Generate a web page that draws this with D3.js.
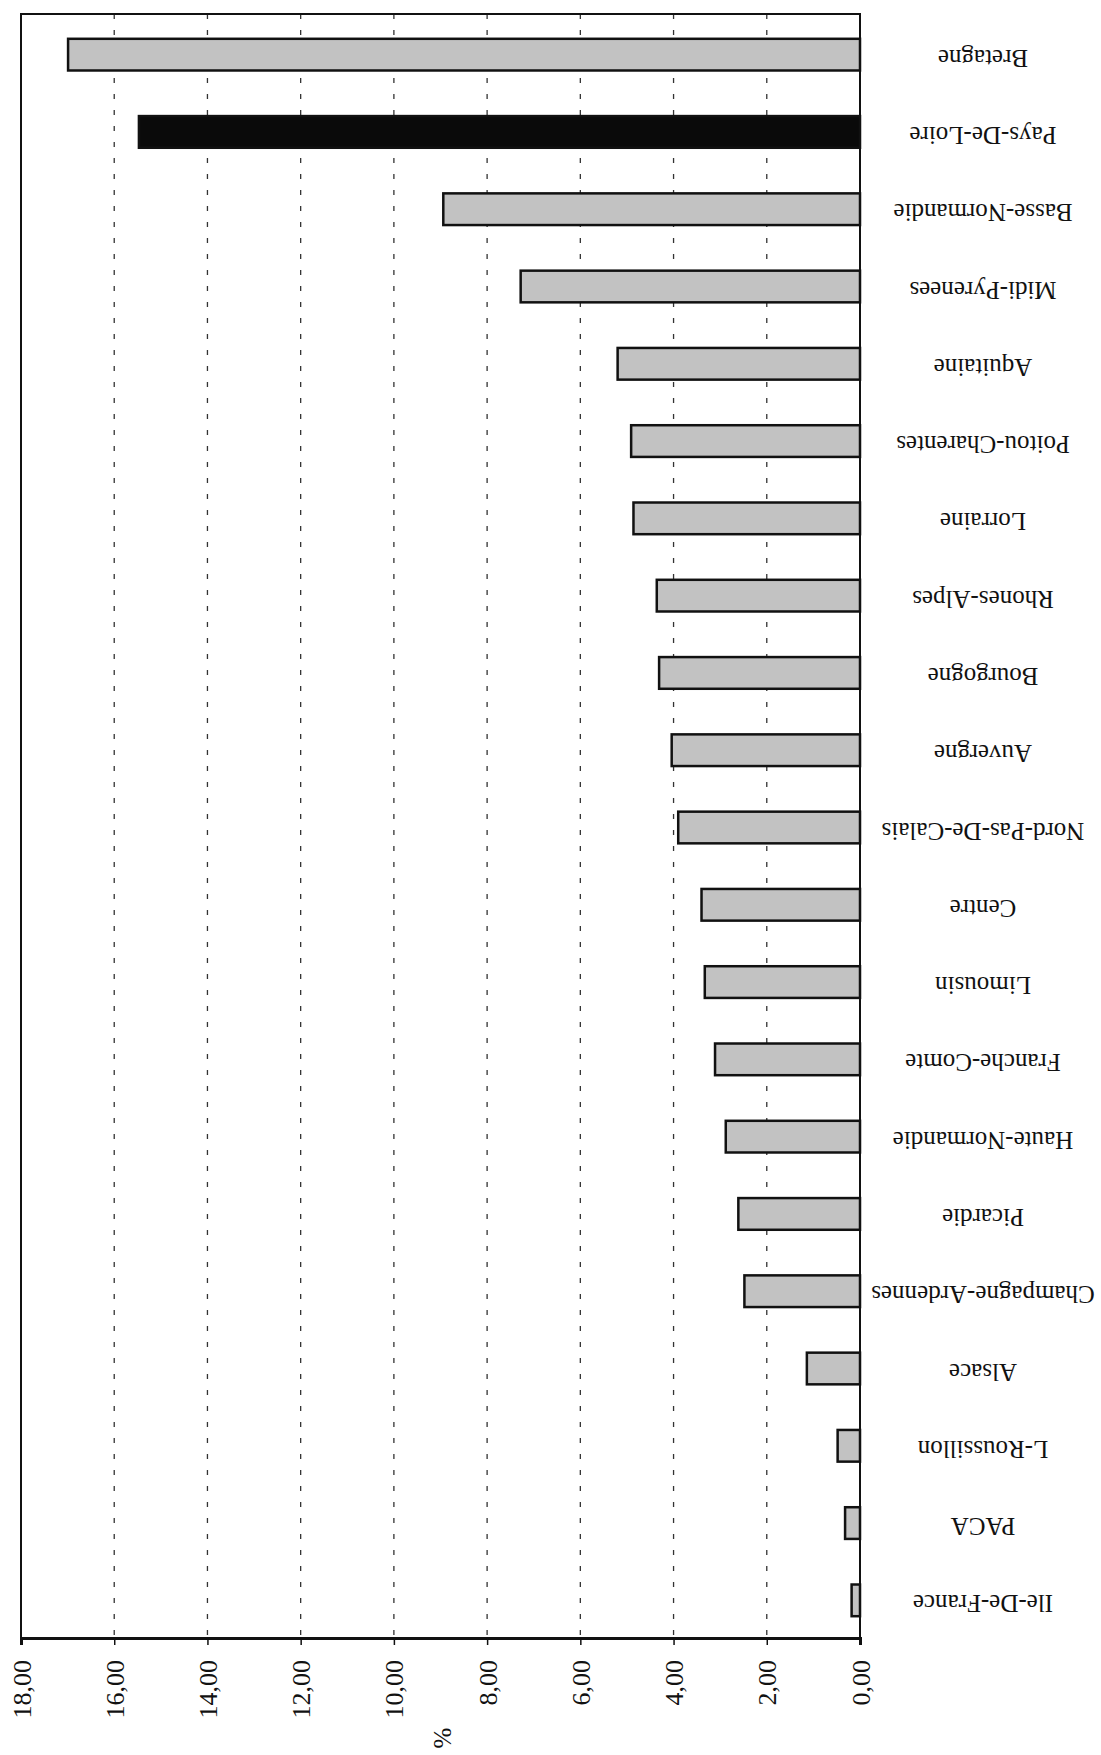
<!DOCTYPE html>
<html>
<head>
<meta charset="utf-8">
<script src="https://cdn.jsdelivr.net/npm/d3@7"></script>
<style>
  html, body { margin: 0; padding: 0; background: #fff; }
  svg { display: block; }
  text { font-family: "Liberation Serif", "DejaVu Serif", serif; fill: #111; }
</style>
</head>
<body>
<svg id="chart" width="1101" height="1755"></svg>
<script>
const categories = ["Bretagne", "Pays-De-Loire", "Basse-Normandie", "Midi-Pyrenees", "Aquitaine",
  "Poitou-Charentes", "Lorraine", "Rhones-Alpes", "Bourgogne", "Auvergne", "Nord-Pas-De-Calais",
  "Centre", "Limousin", "Franche-Comte", "Haute-Normandie", "Picardie", "Champagne-Ardennes",
  "Alsace", "L-Roussillon", "PACA", "Ile-De-France"];
const values = [16.99, 15.47, 8.94, 7.28, 5.20, 4.91, 4.86, 4.36, 4.31, 4.04, 3.90,
  3.40, 3.33, 3.11, 2.88, 2.61, 2.48, 1.14, 0.48, 0.32, 0.18];
const highlighted = ["Pays-De-Loire"];
const tickValues = [0, 2, 4, 6, 8, 10, 12, 14, 16, 18];
const tickLabels = ["0,00", "2,00", "4,00", "6,00", "8,00", "10,00", "12,00", "14,00", "16,00", "18,00"];
const axisTitle = "%";

(function () {
const data = categories.map((c, i) => ({ cat: c, val: values[i] }));

const svg = d3.select("#chart");
const pLeft = 21, pRight = 860, pTop = 14, pBottom = 1638;

const x = d3.scaleLinear().domain([0, 18]).range([pRight, pLeft]);
const y = d3.scaleBand().domain(categories).range([pTop + 2, pBottom + 1])
  .paddingInner(0.59).paddingOuter(0.295);

// gridlines
svg.append("g").selectAll("line")
  .data(tickValues.filter(t => t > 0 && t < 18))
  .join("line")
  .attr("x1", d => x(d)).attr("x2", d => x(d))
  .attr("y1", pTop).attr("y2", pBottom)
  .attr("stroke", "#333").attr("stroke-width", 1.3)
  .attr("stroke-dasharray", "5,11");

// bars
svg.append("g").selectAll("rect")
  .data(data)
  .join("rect")
  .attr("x", d => x(d.val))
  .attr("y", d => y(d.cat))
  .attr("width", d => x(0) - x(d.val))
  .attr("height", y.bandwidth())
  .attr("fill", d => highlighted.includes(d.cat) ? "#0a0a0a" : "#c2c2c2")
  .attr("stroke", "#111")
  .attr("stroke-width", 2.5);

// frame
svg.append("rect")
  .attr("x", pLeft).attr("y", pTop)
  .attr("width", pRight - pLeft).attr("height", pBottom - pTop)
  .attr("fill", "none").attr("stroke", "#111").attr("stroke-width", 2);

// bottom axis
const axis = d3.axisBottom(x)
  .tickValues(tickValues)
  .tickFormat((d, i) => tickLabels[i])
  .tickSize(7)
  .tickPadding(0);
const gx = svg.append("g").attr("transform", `translate(0,${pBottom})`).call(axis);
gx.select(".domain").attr("stroke", "#111").attr("stroke-width", 3);
gx.selectAll(".tick line").attr("stroke", "#111").attr("stroke-width", 1.5);
gx.selectAll(".tick text")
  .attr("font-size", 26)
  .attr("font-family", "Liberation Serif, serif")
  .attr("fill", "#111")
  .attr("text-anchor", "end")
  .attr("dy", "0.35em")
  .attr("transform", "translate(0,22) rotate(-90)")
  .attr("x", 0).attr("y", 0);

// axis title
svg.append("text")
  .attr("transform", `translate(${(pLeft + pRight) / 2 + 2},1738) rotate(-90)`)
  .attr("text-anchor", "middle")
  .attr("dy", "0.35em")
  .attr("font-size", 25)
  .text(axisTitle);

// category labels (upside down)
const labelX = 983;
svg.append("g").selectAll("text")
  .data(data)
  .join("text")
  .attr("transform", d => `translate(${labelX},${y(d.cat) + y.bandwidth() / 2}) rotate(180)`)
  .attr("text-anchor", "middle")
  .attr("dy", "0.2em")
  .attr("font-size", 25)
  .text(d => d.cat);
})();
</script>
</body>
</html>
